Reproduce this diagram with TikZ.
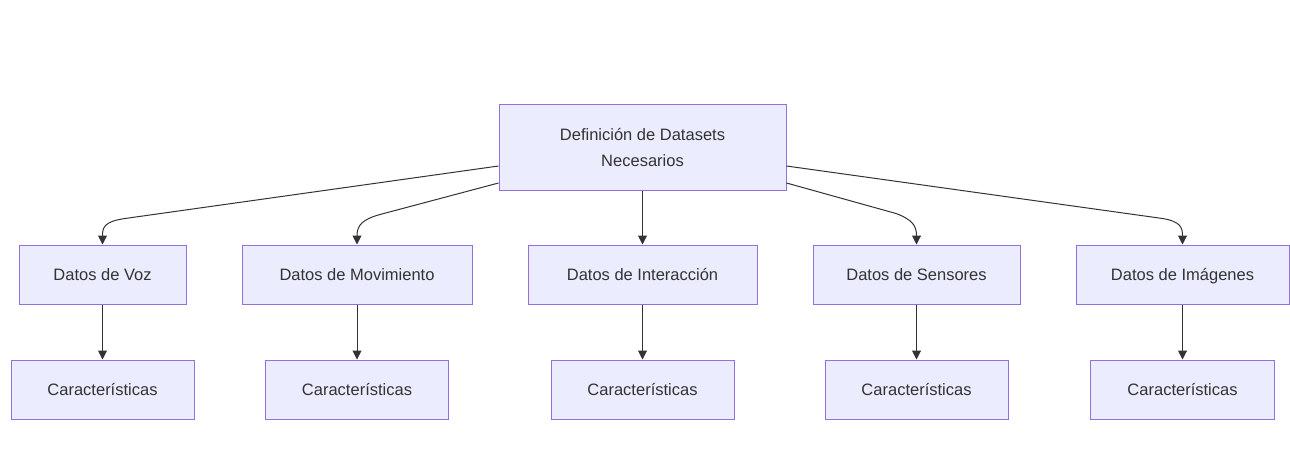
\documentclass[tikz,border=0pt]{standalone}
\usepackage{fontspec}
\setmainfont{Liberation Sans}
\usetikzlibrary{arrows.meta,calc}
\definecolor{nodefill}{HTML}{ECECFF}
\definecolor{nodeline}{HTML}{9370DB}
\definecolor{edgecol}{HTML}{333333}
\definecolor{textcol}{HTML}{333333}
\begin{document}
\begin{tikzpicture}[x=1pt,y=1pt,
  basebox/.style={draw=nodeline,fill=nodefill,line width=1pt,inner sep=0pt,
    text=textcol,font=\fontsize{16.5pt}{26pt}\selectfont},
  box/.style={basebox,minimum height=59pt,text height=12pt,text depth=1pt},
  edge/.style={draw=edgecol,line width=1pt,-{Triangle[length=9pt,width=9pt]}}]
\useasboundingbox[fill=white] (0,0) rectangle (1290,475);
% top
\node[basebox,align=center,minimum width=287pt,minimum height=85pt] (T) at (642.5,327.5)
  {Definición de Datasets\\Necesarios};
% level 2
\node[box,minimum width=167pt] (V) at (102.5,200.5) {Datos de Voz};
\node[box,minimum width=230pt] (M) at (357,200.5) {Datos de Movimiento};
\node[box,minimum width=229pt] (I) at (642.5,200.5) {Datos de Interacción};
\node[box,minimum width=207pt] (S) at (916.5,200.5) {Datos de Sensores};
\node[box,minimum width=213pt] (G) at (1182.5,200.5) {Datos de Imágenes};
% level 3
\node[box,minimum width=183pt] (V3) at (102.5,85.5) {Características};
\node[box,minimum width=183pt] (M3) at (357,85.5) {Características};
\node[box,minimum width=183pt] (I3) at (642.5,85.5) {Características};
\node[box,minimum width=183pt] (S3) at (916.5,85.5) {Características};
\node[box,minimum width=184pt] (G3) at (1182.5,85.5) {Características};
% edges from top
\draw[edge] ([yshift=-18.5pt]T.west) -- ($(V.north)+(22.5,26)$)
  .. controls ($(V.north)+(1.5,23)$) and ($(V.north)+(0,17)$) .. (V.north);
\draw[edge] ([yshift=-35.5pt]T.west) -- ($(M.north)+(23,30)$)
  .. controls ($(M.north)+(5,25)$) and ($(M.north)+(0,19)$) .. (M.north);
\draw[edge] (T.south) -- (I.north);
\draw[edge] ([yshift=-35.5pt]T.east) -- ($(S.north)+(-20.5,31)$)
  .. controls ($(S.north)+(-4.5,25)$) and ($(S.north)+(0,19)$) .. (S.north);
\draw[edge] ([yshift=-18.5pt]T.east) -- ($(G.north)+(-20,26)$)
  .. controls ($(G.north)+(-2,23)$) and ($(G.north)+(0,17)$) .. (G.north);
% vertical edges
\draw[edge] (V.south) -- (V3.north);
\draw[edge] (M.south) -- (M3.north);
\draw[edge] (I.south) -- (I3.north);
\draw[edge] (S.south) -- (S3.north);
\draw[edge] (G.south) -- (G3.north);
\end{tikzpicture}
\end{document}
